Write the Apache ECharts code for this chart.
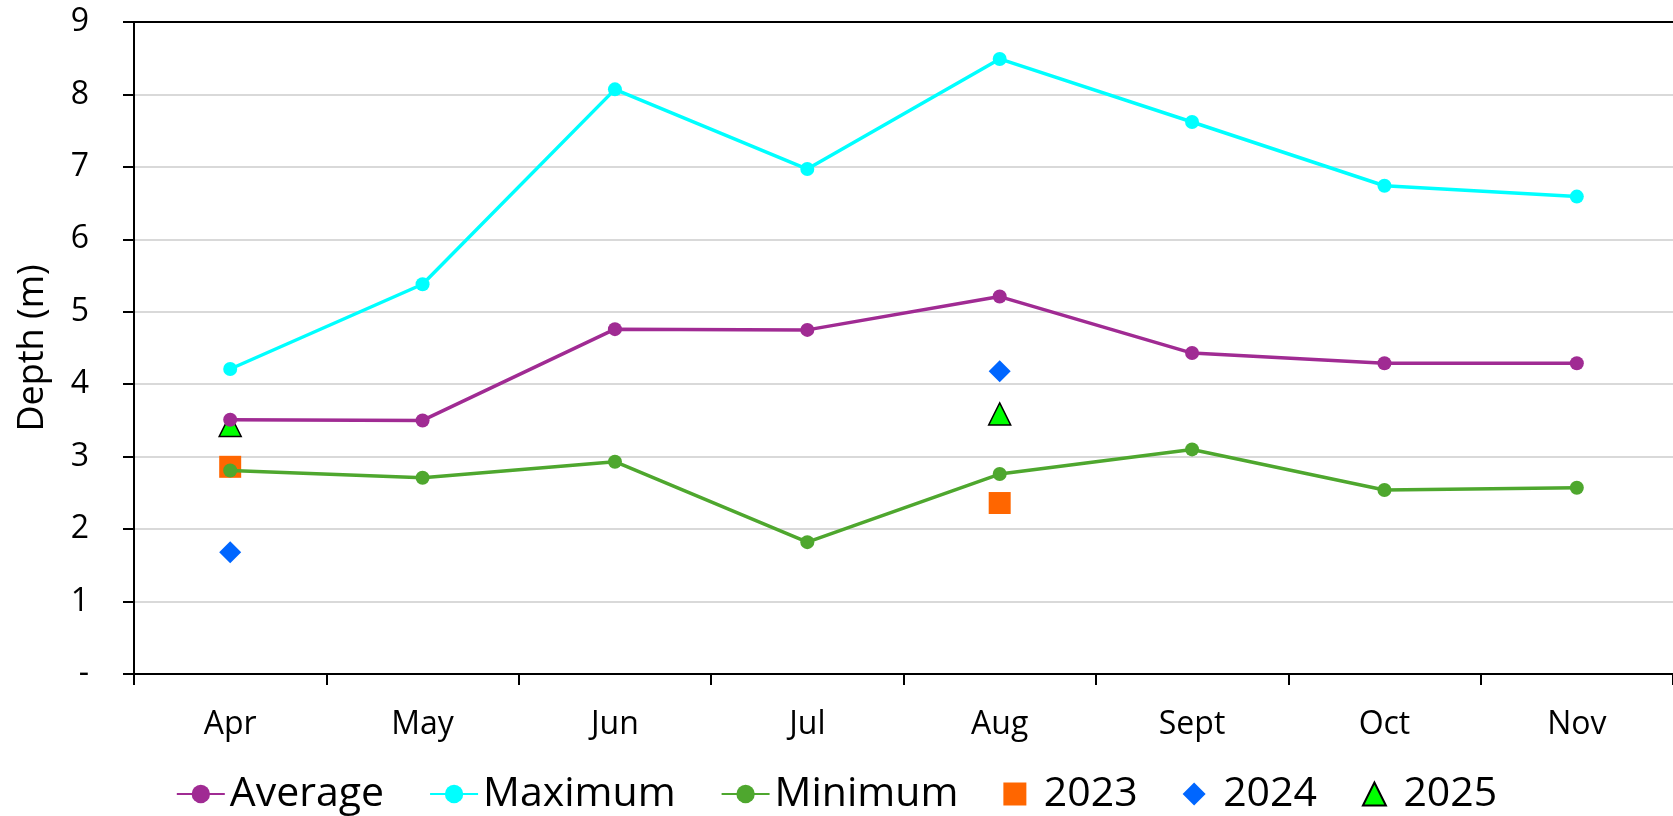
<!DOCTYPE html>
<html>
<head>
<meta charset="utf-8">
<title>Depth by month</title>
<script src="https://cdn.jsdelivr.net/npm/echarts@6/dist/echarts.min.js"></script>
<style>
  html, body { margin: 0; padding: 0; background: #fff; }
  #chart { width: 1673px; height: 816px; }
</style>
</head>
<body>
<div id="chart"></div>
<script>
// Monthly depth summary (m)
const months = ['Apr', 'May', 'Jun', 'Jul', 'Aug', 'Sept', 'Oct', 'Nov'];
const average = [3.51, 3.50, 4.76, 4.75, 5.21, 4.43, 4.29, 4.29];
const maximum = [4.21, 5.38, 8.07, 6.97, 8.49, 7.62, 6.74, 6.59];
const minimum = [2.81, 2.71, 2.93, 1.82, 2.76, 3.10, 2.54, 2.57];
// Individual survey years (only Apr and Aug sampled)
const y2023 = [2.86, null, null, null, 2.36, null, null, null];
const y2024 = [1.68, null, null, null, 4.18, null, null, null];
const y2025 = [3.43, null, null, null, 3.59, null, null, null];
const yTicks = { min: 0, max: 9, interval: 1 };

const FONT = "'Open Sans', 'Noto Sans', sans-serif";

// Square-proportioned legend glyphs (path icons keep their aspect ratio)
const ICON_SQUARE = 'path://M0,0L2,0L2,2L0,2Z';
const ICON_DIAMOND = 'path://M1,0L2,1L1,2L0,1Z';
const ICON_TRIANGLE = 'path://M1,0L2,2L0,2Z';

function lineSeries(name, data, color) {
  return {
    name, type: 'line', data,
    symbol: 'circle', symbolSize: 14,
    lineStyle: { color, width: 3.5 },
    itemStyle: { color, opacity: 1 },
    emphasis: { disabled: true }
  };
}

function pointSeries(name, data, symbol, color, border) {
  return {
    name, type: 'scatter', data, symbol, symbolSize: 22,
    itemStyle: border
      ? { color, opacity: 1, borderColor: border, borderWidth: 1.5 }
      : { color, opacity: 1 },
    emphasis: { disabled: true }
  };
}

const chart = echarts.init(document.getElementById('chart'), null, { renderer: 'canvas' });
chart.setOption({
  animation: false,
  backgroundColor: '#ffffff',
  textStyle: { fontFamily: FONT },
  grid: { left: 134, right: -3, top: 22, bottom: 142 },
  xAxis: [{
    type: 'category',
    data: months,
    boundaryGap: true,
    axisLine: { lineStyle: { color: '#000', width: 2 } },
    axisTick: { show: true, length: 11, inside: false, lineStyle: { color: '#000', width: 2 } },
    axisLabel: { color: '#000', fontSize: 32, fontFamily: FONT, margin: 35 },
    splitLine: { show: false }
  }, {
    // top border of the plot area
    type: 'category',
    data: months,
    position: 'top',
    axisLine: { lineStyle: { color: '#000', width: 2 } },
    axisTick: { show: false },
    axisLabel: { show: false },
    splitLine: { show: false }
  }],
  yAxis: {
    type: 'value',
    min: yTicks.min, max: yTicks.max, interval: yTicks.interval,
    name: 'Depth (m)',
    nameLocation: 'middle',
    nameGap: 83,
    nameTextStyle: { color: '#000', fontSize: 36, fontFamily: FONT },
    axisLine: { show: true, lineStyle: { color: '#000', width: 2 } },
    axisTick: { show: true, length: 11, inside: false, lineStyle: { color: '#000', width: 2 } },
    axisLabel: {
      color: '#000', fontSize: 32, fontFamily: FONT, margin: 45,
      formatter: v => (v === 0 ? '-' : String(v))
    },
    splitLine: { show: true, lineStyle: { color: '#d9d9d9', width: 2 } }
  },
  legend: {
    left: 'center',
    top: 772,
    padding: 0,
    itemGap: 45,
    itemWidth: 48,
    itemHeight: 23,
    symbolKeepAspect: true,
    textStyle: { color: '#000', fontSize: 41, fontFamily: FONT, lineHeight: 44 },
    data: [
      'Average', 'Maximum', 'Minimum',
      { name: '2023', icon: ICON_SQUARE },
      { name: '2024', icon: ICON_DIAMOND },
      { name: '2025', icon: ICON_TRIANGLE }
    ]
  },
  series: [
    lineSeries('Average', average, '#a02b93'),
    lineSeries('Maximum', maximum, '#00ffff'),
    lineSeries('Minimum', minimum, '#4ea72e'),
    pointSeries('2023', y2023, 'rect', '#ff6600'),
    pointSeries('2024', y2024, 'diamond', '#0066ff'),
    pointSeries('2025', y2025, 'triangle', '#00ff00', '#000000')
  ]
});
</script>
</body>
</html>
